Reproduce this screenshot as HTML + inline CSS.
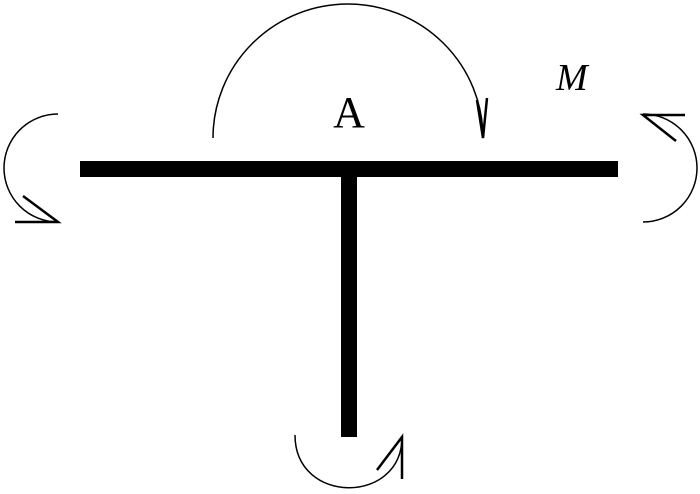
<!DOCTYPE html>
<html><head><style>body{margin:0;background:#fff}svg{display:block}</style></head><body>
<svg width="700" height="494" viewBox="0 0 700 494" xmlns="http://www.w3.org/2000/svg">
<rect x="80" y="161" width="538" height="16" fill="#000"/>
<rect x="341" y="170" width="16" height="267" fill="#000"/>
<g fill="none" stroke="#000" stroke-width="1.5">
<path d="M213 138 A135 134 0 0 1 483 138"/>
<path d="M58 114 A54 54 0 0 0 58 222"/>
<path d="M643 114 A54 54 0 0 1 643 222"/>
<path d="M295 435 C295 505 402 505 402 437"/>
</g>
<g fill="none" stroke="#000" stroke-width="2.5">
<path d="M477 100 L483 138 L487 98"/>
<path d="M15 222 L58 222 L23 196"/>
<path d="M685 115 L643 115 L676 141"/>
<path d="M402 479 L402 437 L377 470"/>
</g>
<text x="349" y="127" font-family="Liberation Serif, serif" font-size="44" text-anchor="middle">A</text>
<text x="556" y="90" font-family="Liberation Serif, serif" font-size="38" font-style="italic">M</text>
</svg>
</body></html>
